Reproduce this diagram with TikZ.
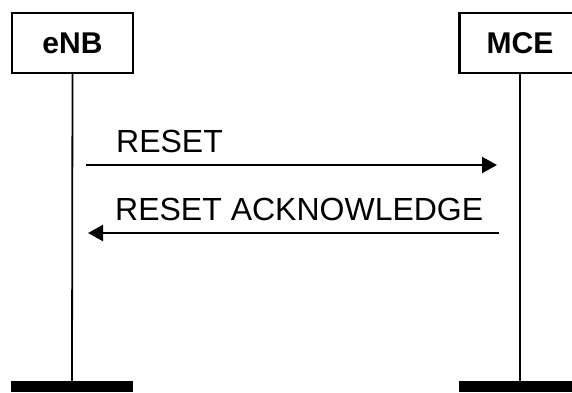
\documentclass[tikz,border=0pt]{standalone}
\usepackage{fontspec}
\setmainfont{Liberation Sans}
\usetikzlibrary{arrows.meta}
\tikzset{
  entity/.style={draw=black, line width=2.4pt, minimum width=121pt, minimum height=60pt, inner sep=0pt, font=\fontsize{30}{36}\selectfont\bfseries},
  lifeline/.style={line width=1.8pt},
  endbar/.style={fill=black, draw=none, minimum width=122pt, minimum height=11pt, inner sep=0pt},
  msg/.style={line width=2.3pt, -{Triangle[length=15pt,width=16pt]}},
  msglabel/.style={anchor=base west, inner sep=0pt, font=\fontsize{32}{36}\selectfont}
}
\begin{document}
\begin{tikzpicture}[x=1pt,y=-1pt]
\useasboundingbox (0,0) rectangle (572,392);
\clip (0,0) rectangle (572,392);
\node[entity] (enb) at (72.5,43) {eNB};
\node[entity] (mce) at (520,43) {MCE};
\node[endbar] (enbbar) at (72,386.5) {};
\node[endbar] (mcebar) at (520,386.5) {};
\draw[lifeline] (enb.south) -- (enbbar.north);
\draw[lifeline] (mce.south) -- (mcebar.north);
\coordinate (m1s) at (86,165);
\coordinate (m1e) at (497,165);
\coordinate (m2s) at (499,233);
\coordinate (m2e) at (88,233);
\draw[msg] (m1s) -- (m1e);
\draw[msg] (m2s) -- (m2e);
\node[msglabel] (l1) at (116,152) {RESET};
\node[msglabel] (l2) at (115,220) {RESET ACKNOWLEDGE};
\end{tikzpicture}
\end{document}
